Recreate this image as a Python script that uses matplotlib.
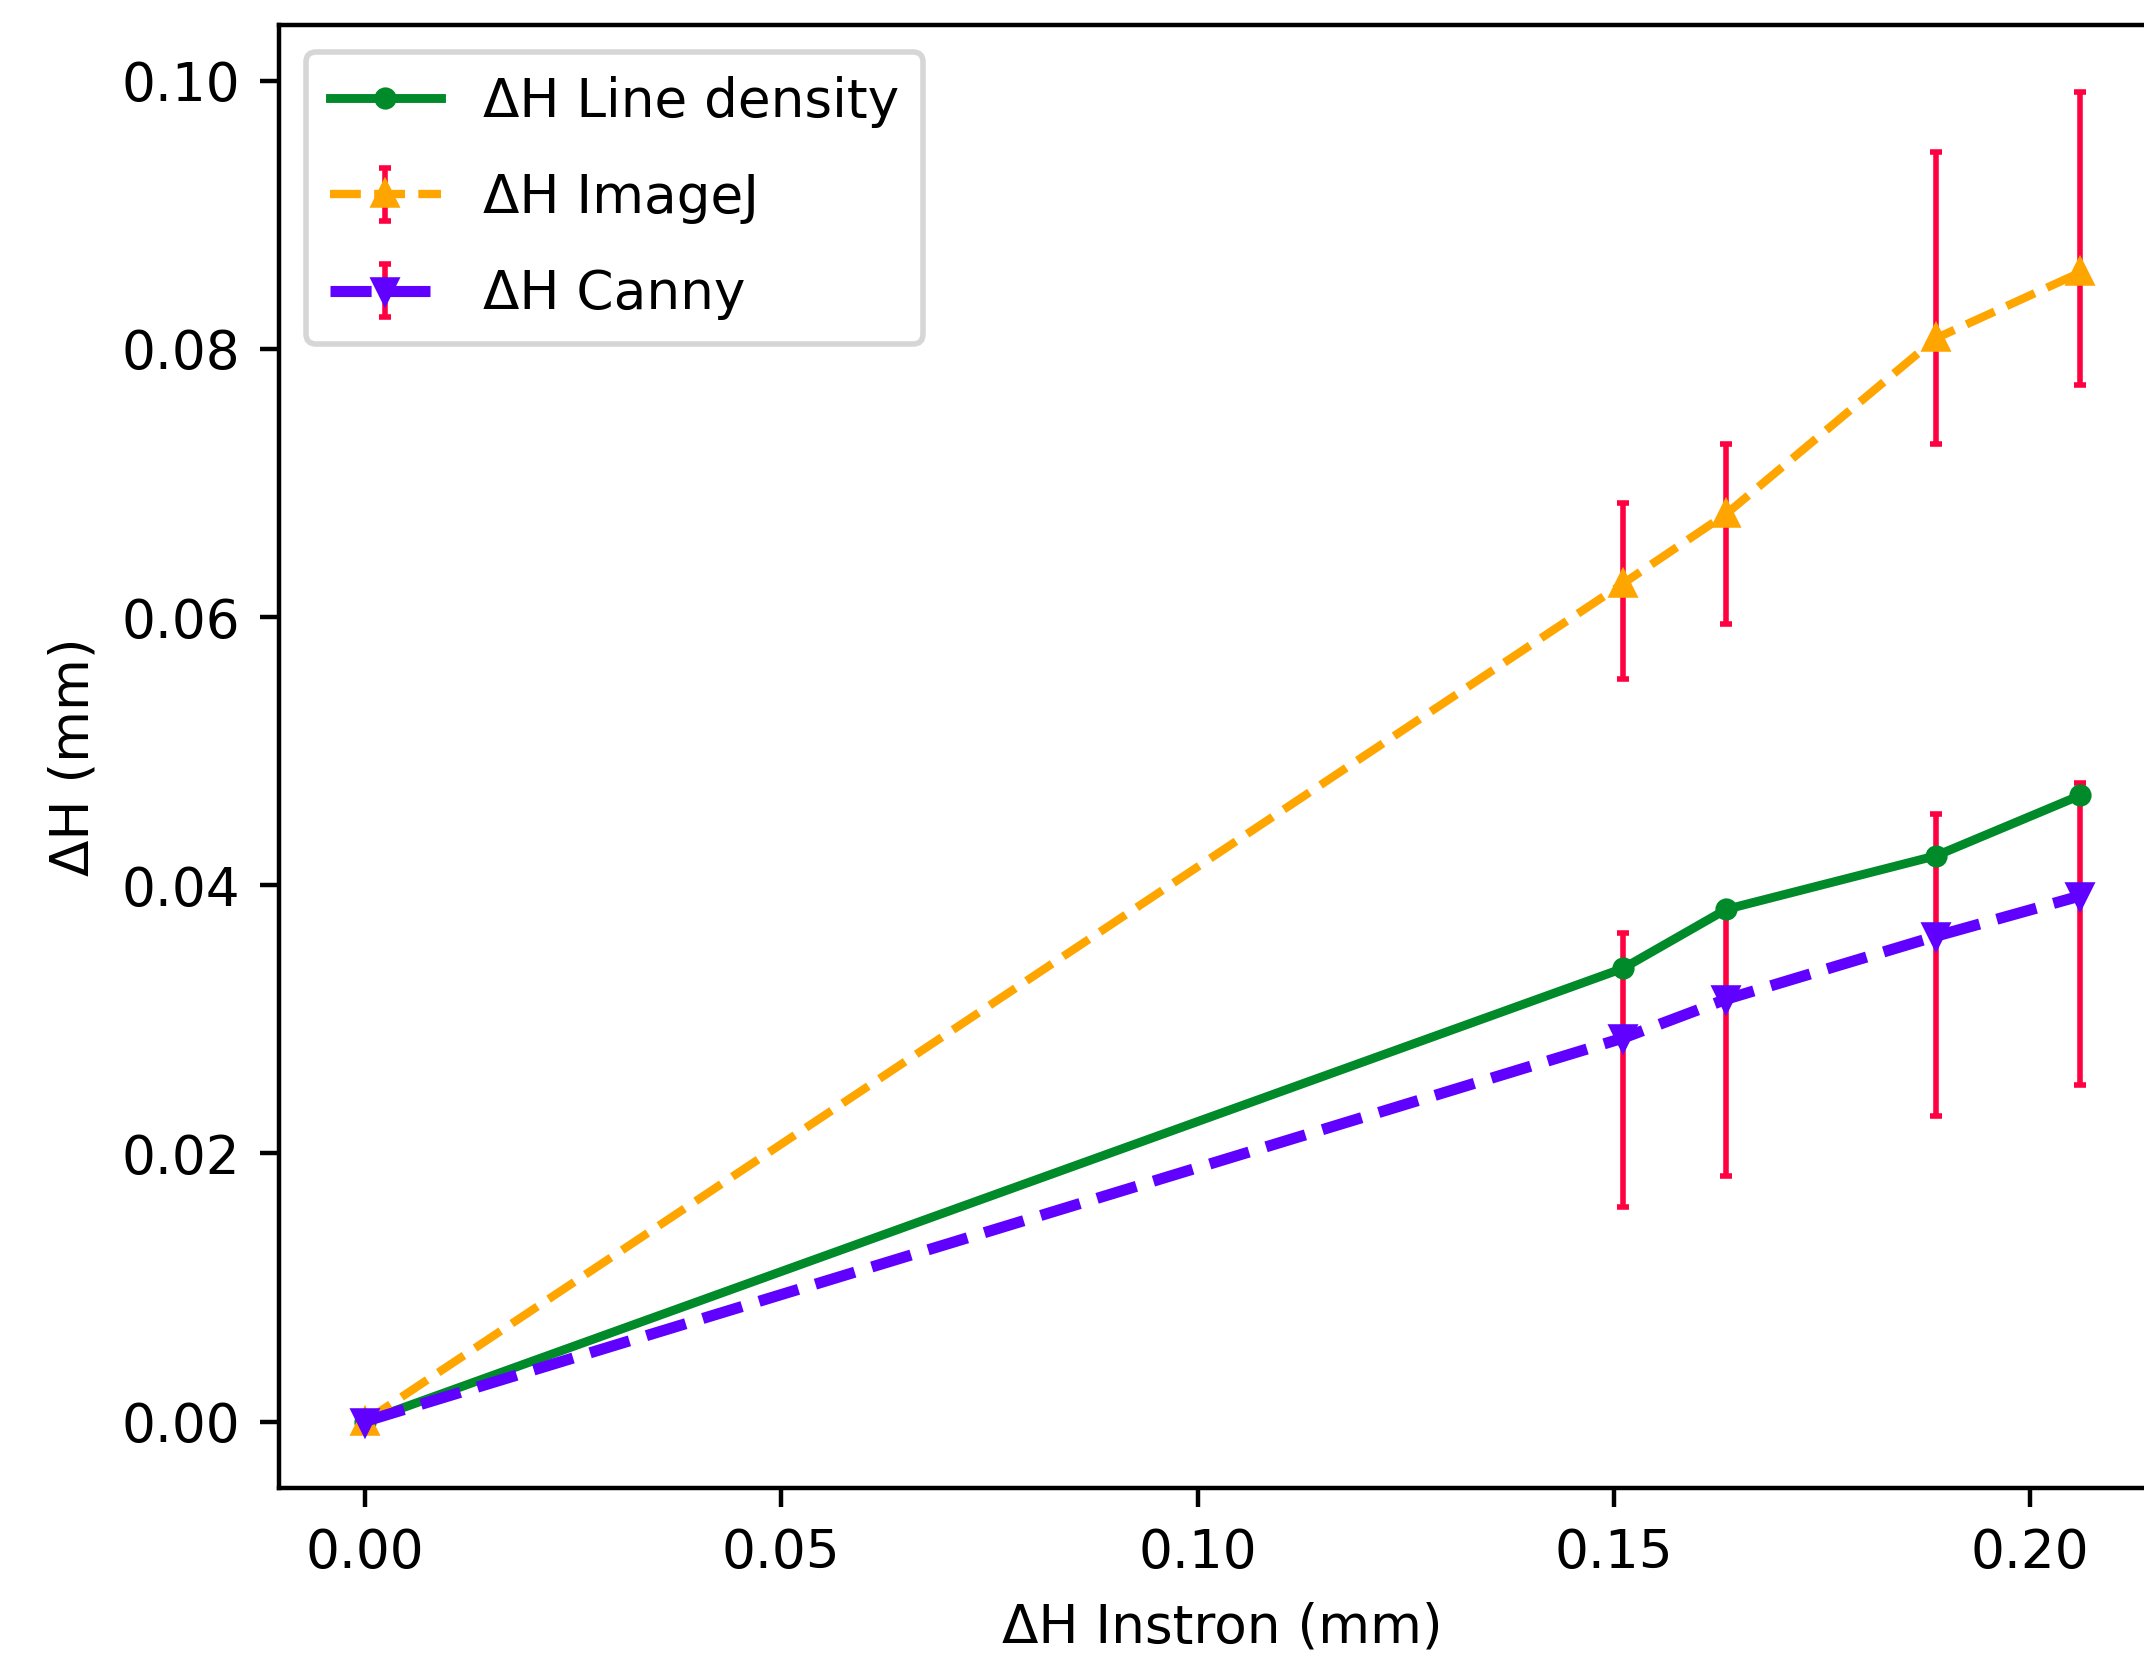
import matplotlib
matplotlib.use("Agg")
import matplotlib.pyplot as plt
import numpy as np

# Data
instron = [0.0, 0.1511, 0.1635, 0.1887, 0.2060]

line_density = [0.0, 0.0338, 0.0382, 0.0422, 0.0467]

imagej = [0.0, 0.0625, 0.0677, 0.0808, 0.0857]
imagej_err_low = [0.0, 0.0071, 0.0082, 0.0079, 0.0084]
imagej_err_high = [0.0, 0.0060, 0.0052, 0.0139, 0.0135]

canny = [0.0, 0.0286, 0.0315, 0.0362, 0.0392]
canny_err_low = [0.0, 0.0126, 0.0132, 0.0134, 0.0141]
canny_err_high = [0.0, 0.0078, 0.0067, 0.0091, 0.0084]

labels = ["ΔH Line density", "ΔH ImageJ", "ΔH Canny"]

plt.rcParams['font.size'] = 9.6

fig = plt.figure(figsize=(2144 / 400, 1663 / 400), dpi=400)
W, H = 2144, 1663
left, right = 279 / W, 2166 / W
bottom, top = (H - 1488) / H, (H - 25) / H
ax = fig.add_axes([left, bottom, right - left, top - bottom])

ax.errorbar(instron, imagej, yerr=[imagej_err_low, imagej_err_high],
            fmt='^--', color='orange', ecolor='#ff0040', elinewidth=1,
            capsize=1, markersize=4, lw=1.5, label=labels[1])
ax.errorbar(instron, canny, yerr=[canny_err_low, canny_err_high],
            fmt='v--', color='#6000ff', ecolor='#ff0040', elinewidth=1,
            capsize=1, markersize=4, lw=2, label=labels[2])
ax.plot(instron, line_density, '.-', color='#008a2a', lw=1.6, label=labels[0])

ax.set_xlabel("ΔH Instron (mm)")
ax.set_ylabel("ΔH (mm)")
ax.legend(loc='upper left', labelspacing=0.83, borderpad=0.45,
          handlelength=2.08)

fig.savefig("out.png", dpi=400)
